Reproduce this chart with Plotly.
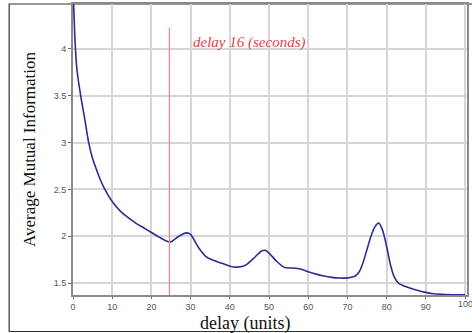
import plotly.graph_objects as go

delay = [0, 0.5, 1, 2, 3, 4, 5, 6, 7, 8, 10, 12, 14, 16, 18, 20, 22, 24, 25, 27, 29, 30,
         32, 34, 36, 38, 40, 42, 44, 46, 48, 49, 50, 52, 54, 56, 58, 60, 62, 64, 66, 68,
         70, 72, 73, 74, 75, 76, 77, 78, 79, 80, 81, 82, 83, 85, 88, 90, 92, 95, 100]
ami = [4.7, 4.1, 3.78, 3.49, 3.25, 3.0, 2.83, 2.71, 2.6, 2.51, 2.37, 2.27, 2.2, 2.14, 2.09,
       2.04, 1.99, 1.945, 1.94, 2.0, 2.035, 2.02, 1.88, 1.78, 1.74, 1.71, 1.68, 1.67, 1.69,
       1.76, 1.84, 1.85, 1.82, 1.73, 1.665, 1.66, 1.65, 1.62, 1.595, 1.575, 1.56, 1.553,
       1.555, 1.575, 1.62, 1.72, 1.86, 2.0, 2.1, 2.14, 2.06, 1.89, 1.69, 1.56, 1.5, 1.46,
       1.42, 1.4, 1.385, 1.378, 1.375]

marker_delay = 24.6
marker_text = "delay 16 (seconds)"
x_title = "delay (units)"
y_title = "Average Mutual Information"
x_ticks = [0, 10, 20, 30, 40, 50, 60, 70, 80, 90, 100]
y_ticks = [1.5, 2, 2.5, 3, 3.5, 4, 4.5]

tick_font = dict(family="Liberation Sans", size=9, color="#555")

fig = go.Figure()
fig.add_trace(go.Scatter(x=delay, y=ami, mode="lines",
                         line=dict(color="#2b2e8c", width=1.6, shape="spline", smoothing=0.6),
                         showlegend=False, hoverinfo="skip"))

fig.add_shape(type="line", xref="x", yref="y", x0=marker_delay, x1=marker_delay,
              y0=1.372, y1=4.23, line=dict(color="#f4858b", width=1.3))
fig.add_annotation(x=30.0, y=4.07, xref="x", yref="y", text=marker_text, showarrow=False,
                   xanchor="left", yanchor="middle",
                   font=dict(family="Liberation Serif", size=15, color="#e8404a", style="italic"))

# last x tick label (runs off the right edge, as in the reference)
fig.add_annotation(x=x_ticks[-1], y=0, xref="x", yref="paper", text=str(x_ticks[-1]),
                   showarrow=False, xanchor="center", yanchor="top", yshift=-2,
                   font=tick_font)

# x axis title
fig.add_annotation(x=0.437, y=-0.138, xref="paper", yref="paper", text=x_title,
                   showarrow=False, xanchor="center", yanchor="bottom", borderpad=0,
                   font=dict(family="Liberation Serif", size=18, color="#111"))

# outer frame
fig.add_shape(type="rect", xref="paper", yref="paper", x0=-0.162, x1=1.03, y0=-0.1254, y1=1.0,
              line=dict(color="#333333", width=1.2), layer="below")

fig.update_layout(
    width=472, height=333,
    margin=dict(l=73, r=5, t=4, b=38),
    paper_bgcolor="white", plot_bgcolor="white",
    xaxis=dict(range=[0, 100.5], tickvals=x_ticks, ticks="outside", ticklen=2, automargin=False,
               tickcolor="#666", showgrid=True, gridcolor="#d6d6d6", gridwidth=1.5,
               showline=True, linecolor="#8a8a8a", linewidth=2, mirror=True, zeroline=False,
               tickfont=tick_font),
    yaxis=dict(range=[1.372, 4.48], tickvals=y_ticks, ticks="outside", ticklen=3, automargin=False,
               tickcolor="#666", showgrid=True, gridcolor="#d6d6d6", gridwidth=1.5,
               showline=True, linecolor="#8a8a8a", linewidth=2, mirror=True, zeroline=False,
               tickfont=tick_font,
               title=dict(text=y_title, standoff=14,
                          font=dict(family="Liberation Serif", size=17, color="#111"))),
)

fig.write_html("out.html")
